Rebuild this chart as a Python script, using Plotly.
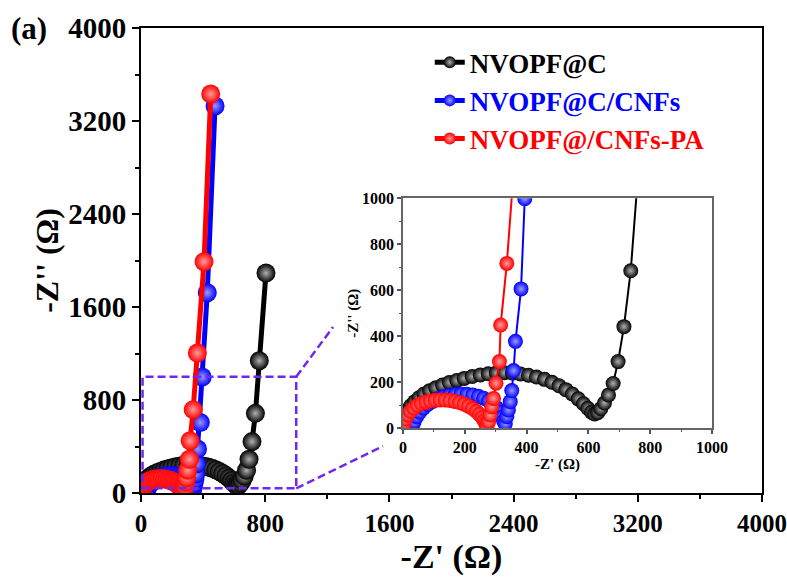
import plotly.graph_objects as go

# ---- data ----
black_x = [8, 15, 25, 38, 52, 68, 86, 106, 128, 150, 174, 198, 224, 250, 276, 302, 328, 354, 380, 406,
           432, 458, 482, 505, 527, 548, 567, 584, 598, 610, 620, 630, 640, 652, 665, 680, 696, 715, 737, 762, 805]
black_y = [62, 80, 98, 116, 133, 149, 163, 176, 188, 199, 208, 217, 225, 232, 237, 241, 242, 240, 236, 231,
           223, 213, 200, 185, 168, 149, 128, 107, 87, 70, 62, 68, 85, 110, 145, 195, 290, 442, 685, 1138, 1892]

blue_x = [30, 36, 44, 54, 66, 80, 96, 113, 131, 150, 169, 188, 207, 226, 244, 261, 277, 291, 303, 313,
          321, 326, 331, 336, 341, 347, 352, 358, 364, 382, 394, 427, 477]
blue_y = [5, 28, 50, 70, 88, 104, 117, 128, 137, 143, 147, 149, 148, 145, 139, 131, 120, 106, 89, 70,
          50, 30, 20, 51, 80, 116, 164, 251, 378, 606, 998, 1723, 3329]

red_x = [3, 8, 15, 24, 35, 47, 60, 74, 89, 104, 120, 136, 152, 168, 183, 198, 212, 225, 237, 247,
         256, 263, 268, 272, 277, 282, 287, 293, 301, 312, 316, 336, 363, 406, 449]
red_y = [20, 40, 58, 74, 88, 99, 108, 114, 119, 122, 123, 123, 121, 117, 112, 105, 96, 86, 74, 61,
         47, 33, 20, 10, 29, 58, 94, 130, 196, 290, 449, 717, 1204, 1990, 3432]

names = ["NVOPF@C", "NVOPF@C/CNFs", "NVOPF@/CNFs-PA"]
colors = ["#000000", "#0000ff", "#ff0000"]
tints = ["#b0b0b0", "#9a9aff", "#ff9a9a"]
series_x = [black_x, blue_x, red_x]
series_y = [black_y, blue_y, red_y]

main_ticks = [0, 800, 1600, 2400, 3200, 4000]
inset_ticks = [0, 200, 400, 600, 800, 1000]

FONT = "Liberation Serif, Times New Roman, serif"
PURPLE = "rgb(112,40,240)"

fig = go.Figure()

for nm, c, t, xs, ys in zip(names, colors, tints, series_x, series_y):
    fig.add_trace(go.Scatter(
        x=xs, y=ys, mode="lines+markers",
        name="<span style='color:%s'>%s</span>" % (c, nm),
        line=dict(color=c, width=5),
        marker=dict(size=19, color=c, line=dict(width=0),
                    gradient=dict(type="radial", color=t)),
        xaxis="x", yaxis="y"))

for nm, c, t, xs, ys in zip(names, colors, tints, series_x, series_y):
    fig.add_trace(go.Scatter(
        x=xs, y=ys, mode="lines+markers", showlegend=False,
        line=dict(color=c, width=2),
        marker=dict(size=15, color=c, line=dict(width=0),
                    gradient=dict(type="radial", color=t)),
        xaxis="x2", yaxis="y2"))

fig.update_layout(
    width=787, height=585,
    margin=dict(l=141, r=25, t=28, b=92, autoexpand=False),
    plot_bgcolor="white", paper_bgcolor="white",
    font=dict(family=FONT, color="black"),
    xaxis=dict(domain=[0, 1], range=[0, 4000], tickvals=main_ticks, automargin=False,
               ticks="outside", ticklen=7, tickwidth=2, tickcolor="black",
               showline=True, linewidth=2, linecolor="black", mirror=True,
               showgrid=False, zeroline=False, ticklabeloverflow="allow",
               minor=dict(dtick=400, tick0=0, ticks="outside", ticklen=4, tickwidth=2, tickcolor="black"),
               tickfont=dict(family=FONT, size=25, color="black", weight="bold"),
               title=dict(text="-Z' (Ω)", standoff=8,
                          font=dict(family=FONT, size=34, color="black", weight="bold"))),
    yaxis=dict(domain=[0, 1], range=[0, 4000], tickvals=main_ticks, automargin=False,
               ticks="outside", ticklen=7, tickwidth=2, tickcolor="black",
               showline=True, linewidth=2, linecolor="black", mirror=True,
               showgrid=False, zeroline=False, ticklabeloverflow="allow",
               minor=dict(dtick=400, tick0=0, ticks="outside", ticklen=4, tickwidth=2, tickcolor="black"),
               tickfont=dict(family=FONT, size=29, color="black", weight="bold"),
               title=dict(text="-Z'' (Ω)", standoff=0,
                          font=dict(family=FONT, size=32, color="black", weight="bold"))),
    xaxis2=dict(domain=[0.4219, 0.9195], range=[0, 1000], anchor="y2", tickvals=inset_ticks,
                automargin=False,
                ticks="outside", ticklen=4, tickwidth=1.5, tickcolor="#555",
                showline=True, linewidth=1.5, linecolor="#666", mirror=True,
                showgrid=False, zeroline=False, ticklabeloverflow="allow",
                minor=dict(dtick=100, tick0=0, ticks="outside", ticklen=2, tickwidth=1, tickcolor="#555"),
                tickfont=dict(family=FONT, size=16, color="black", weight="bold"),
                title=dict(text="-Z' (Ω)", standoff=2,
                           font=dict(family=FONT, size=15, color="black", weight="bold"))),
    yaxis2=dict(domain=[0.1391, 0.6338], range=[0, 1000], anchor="x2", tickvals=inset_ticks,
                automargin=False,
                ticks="outside", ticklen=4, tickwidth=1.5, tickcolor="#555",
                showline=True, linewidth=1.5, linecolor="#666", mirror=True,
                showgrid=False, zeroline=False, ticklabeloverflow="allow",
                minor=dict(dtick=100, tick0=0, ticks="outside", ticklen=2, tickwidth=1, tickcolor="#555"),
                tickfont=dict(family=FONT, size=16, color="black", weight="bold"),
                title=dict(text="-Z'' (Ω)", standoff=0,
                           font=dict(family=FONT, size=15, color="black", weight="bold"))),
    legend=dict(x=0.465, y=0.978, xanchor="left", yanchor="top",
                bgcolor="rgba(0,0,0,0)", borderwidth=0,
                font=dict(family=FONT, size=27, color="black", weight="bold"),
                itemsizing="constant", tracegroupgap=0),
    annotations=[dict(text="(a)", xref="paper", yref="paper", x=-0.213, y=1.0,
                      xanchor="left", yanchor="middle", showarrow=False,
                      font=dict(family=FONT, size=31, color="black", weight="bold"))],
    shapes=[
        dict(type="rect", xref="x", yref="y", x0=10, x1=1000, y0=40, y1=1000,
             line=dict(color=PURPLE, width=2.5, dash="8px,4px")),
        dict(type="line", xref="x", yref="y", x0=1000, y0=1000, x1=1237, y1=1428,
             line=dict(color=PURPLE, width=2.5, dash="8px,4px")),
        dict(type="line", xref="x", yref="y", x0=1000, y0=40, x1=1559, y1=404,
             line=dict(color=PURPLE, width=2.5, dash="8px,4px")),
    ],
)

fig.write_html("out.html")
